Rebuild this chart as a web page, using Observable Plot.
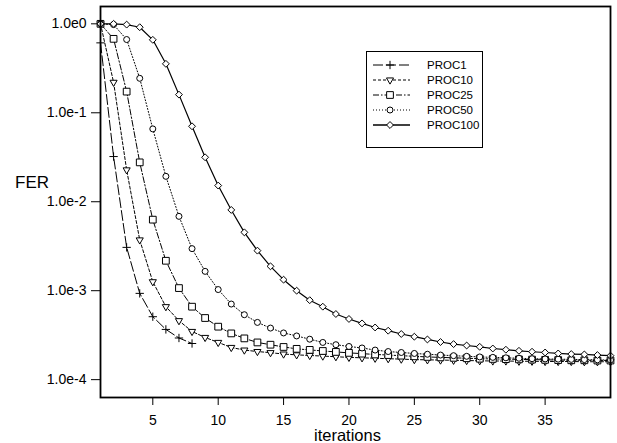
<!DOCTYPE html>
<html><head><meta charset="utf-8">
<script src="https://cdn.jsdelivr.net/npm/d3@7"></script>
<script src="https://cdn.jsdelivr.net/npm/@observablehq/plot@0.6"></script>
<style>
body{margin:0;background:#fff;}
#chart{position:relative;width:617px;height:443px;}
svg{font-family:"Liberation Sans",Arial,sans-serif;}
</style></head><body><div id="chart"></div>
<script>
const seriesNames = ["PROC1","PROC10","PROC25","PROC50","PROC100"];
const iterations = [1,2,3,4,5,6,7,8,9,10,11,12,13,14,15,16,17,18,19,20,21,22,23,24,25,26,27,28,29,30,31,32,33,34,35,36,37,38,39,40];
const proc1 = [0.611, 0.0322, 0.00307, 9.33e-4, 5.10e-4, 3.67e-4, 2.94e-4, 2.55e-4];
const proc10 = [1.0, 0.220, 0.0228, 3.72e-3, 1.26e-3, 6.61e-4, 4.60e-4, 3.48e-4, 2.98e-4, 2.62e-4, 2.30e-4, 2.15e-4, 2.07e-4, 2.01e-4, 1.94e-4, 1.90e-4, 1.87e-4, 1.84e-4, 1.81e-4, 1.78e-4, 1.76e-4, 1.74e-4, 1.72e-4, 1.70e-4, 1.68e-4, 1.67e-4, 1.66e-4, 1.65e-4, 1.64e-4, 1.63e-4, 1.62e-4, 1.62e-4, 1.61e-4, 1.61e-4, 1.60e-4, 1.60e-4, 1.60e-4, 1.59e-4, 1.59e-4, 1.59e-4];
const proc25 = [1.0, 0.678, 0.173, 0.0277, 6.29e-3, 2.17e-3, 1.07e-3, 6.61e-4, 4.93e-4, 3.94e-4, 3.31e-4, 2.91e-4, 2.62e-4, 2.47e-4, 2.33e-4, 2.22e-4, 2.16e-4, 2.10e-4, 2.05e-4, 2.00e-4, 1.96e-4, 1.92e-4, 1.89e-4, 1.86e-4, 1.83e-4, 1.80e-4, 1.78e-4, 1.76e-4, 1.74e-4, 1.72e-4, 1.71e-4, 1.70e-4, 1.69e-4, 1.68e-4, 1.67e-4, 1.66e-4, 1.65e-4, 1.65e-4, 1.64e-4, 1.64e-4];
const proc50 = [1.0, 0.98, 0.666, 0.244, 0.0659, 0.0193, 6.85e-3, 2.97e-3, 1.65e-3, 1.03e-3, 7.08e-4, 5.37e-4, 4.40e-4, 3.80e-4, 3.35e-4, 3.10e-4, 2.85e-4, 2.62e-4, 2.47e-4, 2.36e-4, 2.27e-4, 2.15e-4, 2.07e-4, 2.02e-4, 1.97e-4, 1.93e-4, 1.89e-4, 1.86e-4, 1.83e-4, 1.80e-4, 1.78e-4, 1.76e-4, 1.74e-4, 1.72e-4, 1.71e-4, 1.70e-4, 1.69e-4, 1.68e-4, 1.67e-4, 1.66e-4];
const proc100 = [1.0, 1.0, 0.98, 0.916, 0.661, 0.355, 0.160, 0.0705, 0.0316, 0.0152, 8.09e-3, 4.53e-3, 2.82e-3, 1.88e-3, 1.33e-3, 1.00e-3, 7.82e-4, 6.61e-4, 5.47e-4, 4.81e-4, 4.29e-4, 3.86e-4, 3.55e-4, 3.26e-4, 3.04e-4, 2.83e-4, 2.65e-4, 2.51e-4, 2.42e-4, 2.34e-4, 2.24e-4, 2.17e-4, 2.11e-4, 2.06e-4, 2.02e-4, 1.97e-4, 1.94e-4, 1.92e-4, 1.89e-4, 1.86e-4];
const seriesValues = [proc1, proc10, proc25, proc50, proc100];
const yTicks = [1, 0.1, 0.01, 0.001, 0.0001];
const xTicks = [5, 10, 15, 20, 25, 30, 35];

const triangleDown = {draw(ctx, size){
  const k = Math.sqrt(size) * 0.6824, t = k / 2, u = k * Math.sqrt(3) / 2;
  ctx.moveTo(0, k); ctx.lineTo(u, -t); ctx.lineTo(-u, -t); ctx.closePath();
}};
const styles = {
  PROC1:  {dash: "10,3", symbol: "plus", d3sym: d3.symbolPlus, r: 2.8, fill: "none", width: 1},
  PROC10: {dash: "3,2", symbol: triangleDown, d3sym: triangleDown, r: 3.4, fill: "white", width: 1},
  PROC25: {dash: "6,2,1.5,2", symbol: "square", d3sym: d3.symbolSquare, r: 3.8, fill: "white", width: 1},
  PROC50: {dash: "1,2", symbol: "circle", d3sym: d3.symbolCircle, r: 3, fill: "white", width: 1},
  PROC100:{dash: null, symbol: "diamond2", d3sym: d3.symbolDiamond2, r: 3.1, fill: "white", width: 1.2}
};

const data = [];
seriesNames.forEach((name, i) => seriesValues[i].forEach((v, j) => data.push({series: name, it: iterations[j], fer: v})));

const lineMarks = seriesNames.map(name => {
  const s = styles[name];
  const o = {x: "it", y: "fer", stroke: "black", strokeWidth: s.width};
  if (s.dash) o.strokeDasharray = s.dash;
  return Plot.line(data.filter(d => d.series === name), o);
});
const dotMarks = seriesNames.map(name => {
  const s = styles[name];
  return Plot.dot(data.filter(d => d.series === name), {x: "it", y: "fer", symbol: s.symbol, r: s.r, stroke: "black", strokeWidth: 1, fill: s.fill});
});

const svg = Plot.plot({
  width: 617, height: 443,
  marginLeft: 100, marginRight: 7, marginTop: 6, marginBottom: 46,
  style: {fontFamily: "Liberation Sans, Arial, sans-serif", fontSize: "14px", background: "#fff", color: "#000"},
  x: {domain: [1, 40]},
  y: {type: "log", domain: [6.3e-5, 1.566]},
  marks: [
    Plot.axisX({ticks: xTicks, tickSize: 8, tickPadding: 10, label: null, tickFormat: d => String(d)}),
    Plot.axisY({ticks: yTicks, tickSize: 9, tickPadding: 5, label: null, tickFormat: d => "1.0e" + Math.round(Math.log10(d))}),
    ...lineMarks,
    ...dotMarks,
    Plot.frame({stroke: "black", strokeWidth: 1.8})
  ]
});
document.getElementById("chart").appendChild(svg);

const root = d3.select(svg);
root.append("text").attr("x", 15).attr("y", 188).attr("text-anchor", "start").attr("font-size", 17).attr("fill", "black").text("FER");
root.append("text").attr("x", 347.5).attr("y", 441).attr("text-anchor", "middle").attr("font-size", 16.5).attr("fill", "black").text("iterations");

const lg = root.append("g");
lg.append("rect").attr("x", 366.5).attr("y", 51.5).attr("width", 116).attr("height", 96).attr("fill", "white").attr("stroke", "black").attr("stroke-width", 1);
seriesNames.forEach((name, i) => {
  const s = styles[name];
  const y = 65 + i * 15;
  lg.append("line").attr("x1", 373).attr("x2", 410).attr("y1", y).attr("y2", y).attr("stroke", "black").attr("stroke-width", name === "PROC100" ? 1.6 : 1).attr("stroke-dasharray", s.dash);
  lg.append("path").attr("d", d3.symbol(s.d3sym, Math.PI * s.r * s.r)()).attr("transform", `translate(390,${y})`).attr("fill", s.fill).attr("stroke", "black");
  lg.append("text").attr("x", 427).attr("y", y).attr("dy", "0.35em").attr("text-anchor", "start").attr("font-size", 11.5).attr("fill", "black").text(name);
});
</script></body></html>
